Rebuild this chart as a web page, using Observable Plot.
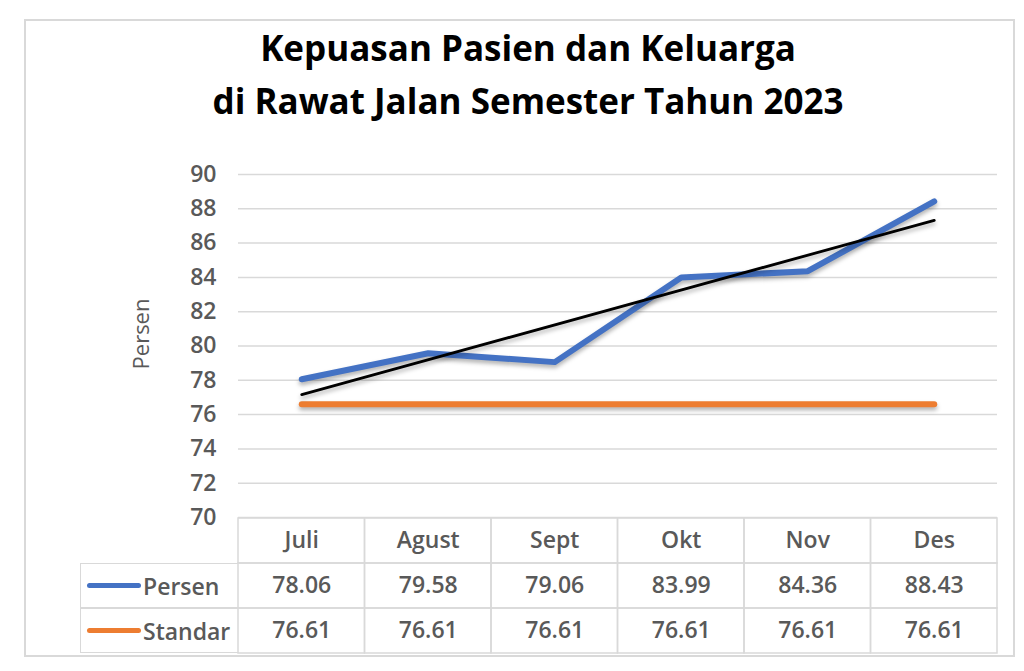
<!DOCTYPE html>
<html><head><meta charset="utf-8">
<script src="https://cdn.jsdelivr.net/npm/d3@7"></script>
<script src="https://cdn.jsdelivr.net/npm/@observablehq/plot@0.6"></script>
<style>
body{margin:0;background:#fff;}
#wrap{position:relative;width:1024px;height:671px;overflow:hidden;font-family:"Open Sans",sans-serif;background:#fff;}
#frame{position:absolute;left:24px;top:19px;width:987px;height:634px;border:2px solid #d9d9d9;box-sizing:content-box;}
#title{position:absolute;left:30px;width:996px;top:21px;text-align:center;font-weight:bold;font-size:35px;line-height:53px;color:#000;}
#chart{position:absolute;left:0;top:150px;}
#table{position:absolute;left:0;top:517px;}
.leg{position:absolute;left:80px;width:158px;box-sizing:border-box;border-left:1.5px solid #d9d9d9;border-bottom:1.5px solid #d9d9d9;border-top:1.5px solid #d9d9d9;font-size:23px;font-weight:600;color:#595959;display:flex;align-items:center;}
.key{display:inline-block;width:54px;height:5px;border-radius:3px;margin-left:6px;margin-right:2px;}
</style></head>
<body>
<div id="wrap">
  <div id="frame"></div>
  <div id="title">Kepuasan Pasien dan Keluarga<br>di Rawat Jalan Semester Tahun 2023</div>
  <div id="table"></div>
  <div id="chart"></div>
</div>
<script>
// ---- data ----
const months = ["Juli", "Agust", "Sept", "Okt", "Nov", "Des"];
const persen = [78.06, 79.58, 79.06, 83.99, 84.36, 88.43];
const standar = [76.61, 76.61, 76.61, 76.61, 76.61, 76.61];
const yTicks = [70, 72, 74, 76, 78, 80, 82, 84, 86, 88, 90];
const seriesNames = ["Persen", "Standar"];
const seriesColors = ["#4472C4", "#ED7D31"];

const rowsP = months.map((m, i) => ({i: i + 1, month: m, value: persen[i]}));
const rowsS = months.map((m, i) => ({i: i + 1, month: m, value: standar[i]}));

const W = 1024, ML = 238, MR = 27;
const xScale = {type: "linear", domain: [0.5, months.length + 0.5]};

const chart = Plot.plot({
  width: W, height: 385,
  marginLeft: ML, marginRight: MR, marginTop: 24, marginBottom: 18,
  style: {fontFamily: "'Open Sans', sans-serif", color: "#595959", background: "transparent", fontWeight: 600},
  x: {...xScale, axis: null},
  y: {domain: [70, 90]},
  marks: [
    Plot.gridY(yTicks, {stroke: "#d9d9d9", strokeOpacity: 1, strokeWidth: 1.5}),
    Plot.axisY(yTicks, {tickSize: 0, tickPadding: 22, fontSize: 23, label: "Persen", labelArrow: false, labelAnchor: "center", labelOffset: 105}),
    Plot.line(rowsS, {x: "i", y: "value", stroke: seriesColors[1], strokeWidth: 6, strokeLinecap: "round", strokeLinejoin: "round"}),
    Plot.line(rowsP, {x: "i", y: "value", stroke: seriesColors[0], strokeWidth: 6, strokeLinecap: "round", strokeLinejoin: "round"}),
    Plot.linearRegressionY(rowsP, {x: "i", y: "value", stroke: "#000", strokeWidth: 2.8, ci: 0})
  ]
});
d3.select(chart).selectAll('g[aria-label="line"] path, g[aria-label="linear-regression"] path')
  .style("filter", "drop-shadow(0px 3px 2px rgba(0,0,0,0.3))");
// axis title: regular weight, nudged up like the reference
d3.select(chart).selectAll('g[aria-label="y-axis label"] text')
  .style("font-weight", "normal").style("font-size", "22px")
  .attr("transform", function() { return "translate(0,-12) " + (this.getAttribute("transform") || ""); });
chart.style.pointerEvents = "none";
document.getElementById("chart").appendChild(chart);

// ---- data table ----
const fmt = d3.format(".2f");
const cells = [
  ...months.map((m, k) => ({i: k + 1, row: "header", label: m})),
  ...rowsP.map(d => ({i: d.i, row: seriesNames[0], label: fmt(d.value)})),
  ...rowsS.map(d => ({i: d.i, row: seriesNames[1], label: fmt(d.value)}))
];
const table = Plot.plot({
  width: W, height: 138,
  marginLeft: ML, marginRight: MR, marginTop: 0, marginBottom: 1,
  style: {fontFamily: "'Open Sans', sans-serif", background: "transparent", fontWeight: 600},
  x: {...xScale, axis: null},
  y: {type: "band", domain: ["header", ...seriesNames], padding: 0, axis: null},
  marks: [
    Plot.barX(cells, {x1: d => d.i - 0.5, x2: d => d.i + 0.5, y: "row", fill: "none", stroke: "#d9d9d9", strokeWidth: 1.5}),
    Plot.text(cells, {x: "i", y: "row", text: "label", fontSize: 23, fill: "#595959"})
  ]
});
document.getElementById("table").appendChild(table);

// legend column aligned with table rows
const ys = table.scale("y");
const bw = ys.bandwidth;
seriesNames.forEach((name, k) => {
  const top = 517 + ys.apply(name);
  const div = document.createElement("div");
  div.className = "leg";
  div.style.top = top + "px";
  div.style.height = bw + "px";
  div.innerHTML = `<span class="key" style="background:${seriesColors[k]}"></span><span>${name}</span>`;
  document.getElementById("wrap").appendChild(div);
});
</script>
</body></html>
